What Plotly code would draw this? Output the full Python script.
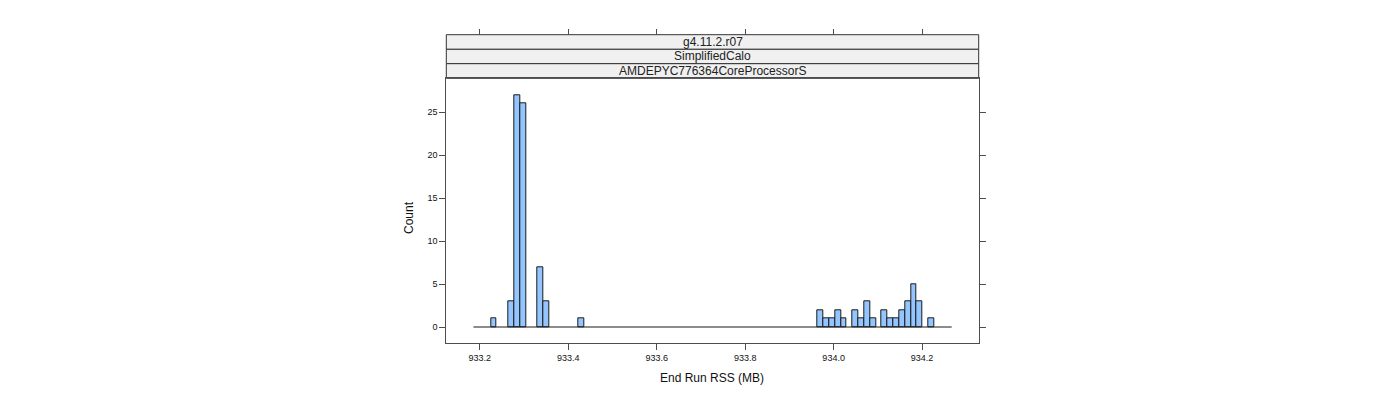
import plotly.graph_objects as go

# ---- data ----
bin_centers = [933.2317, 933.2712, 933.2844, 933.2976, 933.3372, 933.3503, 933.4295,
               933.9702, 933.9834, 933.9966, 934.0098, 934.0229,
               934.0493, 934.0625, 934.0757, 934.0889,
               934.1153, 934.1284, 934.1416, 934.1548, 934.1680, 934.1812, 934.1944,
               934.2208]
counts = [1, 3, 27, 26, 7, 3, 1,
          2, 1, 1, 2, 1,
          2, 1, 3, 1,
          2, 1, 1, 2, 3, 5, 3,
          1]
bin_width = 0.013188
breaks_range = [933.1855, 934.2669]
x_ticks = [933.2, 933.4, 933.6, 933.8, 934.0, 934.2]
x_tick_labels = ["933.2", "933.4", "933.6", "933.8", "934.0", "934.2"]
y_ticks = [0, 5, 10, 15, 20, 25]
strip_labels = ["g4.11.2.r07", "SimplifiedCalo", "AMDEPYC776364CoreProcessorS"]
x_title = "End Run RSS (MB)"
y_title = "Count"

# ---- layout geometry (pixels) ----
W, H = 1400, 400
px_left, px_right = 446.3, 978.7
px_top_panel, px_bottom = 78.3, 343.0
strip_edges = [34.7, 49.3, 63.7, 78.3]

def fx(p):
    return p / W

def fy(p):
    return 1 - p / H

FONT = "Liberation Sans, Arial, Helvetica, sans-serif"
FRAME = "#4d4d4d"

fig = go.Figure()
fig.add_trace(go.Bar(
    x=bin_centers, y=counts, width=bin_width,
    marker=dict(color="#93c6ff", line=dict(color="#1a1a1a", width=1)),
    showlegend=False, hoverinfo="x+y",
))
fig.add_trace(go.Scatter(
    x=breaks_range, y=[0, 0], mode="lines",
    line=dict(color="#1a1a1a", width=1.2),
    xaxis="x2", yaxis="y", showlegend=False, hoverinfo="skip",
))

shapes = []
annotations = []
# strips (top to bottom)
for i, lab in enumerate(strip_labels):
    y0p, y1p = strip_edges[i], strip_edges[i + 1]
    shapes.append(dict(type="rect", xref="paper", yref="paper",
                       x0=fx(px_left), x1=fx(px_right), y0=fy(y1p), y1=fy(y0p),
                       fillcolor="#f0f0f0", line=dict(color="#333333", width=1),
                       layer="below"))
    annotations.append(dict(text=lab, xref="paper", yref="paper",
                            x=fx((px_left + px_right) / 2), y=fy((y0p + y1p) / 2),
                            showarrow=False, xanchor="center", yanchor="middle",
                            font=dict(family=FONT, size=12, color="#222222")))

annotations.append(dict(text=x_title, xref="paper", yref="paper",
                        x=fx(712), y=fy(378), showarrow=False,
                        xanchor="center", yanchor="middle",
                        font=dict(family=FONT, size=12, color="#111111")))
annotations.append(dict(text=y_title, xref="paper", yref="paper",
                        x=fx(409), y=fy(218), showarrow=False, textangle=-90,
                        xanchor="center", yanchor="middle",
                        font=dict(family=FONT, size=12, color="#111111")))

x_range = [933.1242, 934.3280]
y_range = [-1.86, 28.92]

fig.update_layout(
    width=W, height=H,
    margin=dict(l=0, r=0, t=0, b=0),
    paper_bgcolor="white", plot_bgcolor="white",
    font=dict(family=FONT, color="#111111"),
    shapes=shapes, annotations=annotations,
    bargap=0,
    xaxis=dict(domain=[fx(px_left), fx(px_right)], range=x_range,
               tickvals=x_ticks, ticktext=x_tick_labels,
               ticks="outside", ticklen=6, tickcolor=FRAME, tickwidth=1,
               tickfont=dict(size=9, family=FONT, color="#111111"),
               showline=True, linecolor=FRAME, linewidth=1, mirror=True,
               showgrid=False, zeroline=False, anchor="y"),
    xaxis2=dict(overlaying="x", matches="x", side="top", anchor="free",
                position=fy(strip_edges[0]),
                tickvals=x_ticks, showticklabels=False,
                ticks="outside", ticklen=6, tickcolor=FRAME, tickwidth=1,
                showline=False, showgrid=False, zeroline=False),
    yaxis=dict(domain=[fy(px_bottom), fy(px_top_panel)], range=y_range,
               tickvals=y_ticks, ticks="outside", ticklen=6, tickcolor=FRAME,
               tickwidth=1, tickfont=dict(size=9, family=FONT, color="#111111"),
               showline=True, linecolor=FRAME, linewidth=1, mirror="ticks",
               showgrid=False, zeroline=False, anchor="x"),
)

fig.write_html("out.html")
